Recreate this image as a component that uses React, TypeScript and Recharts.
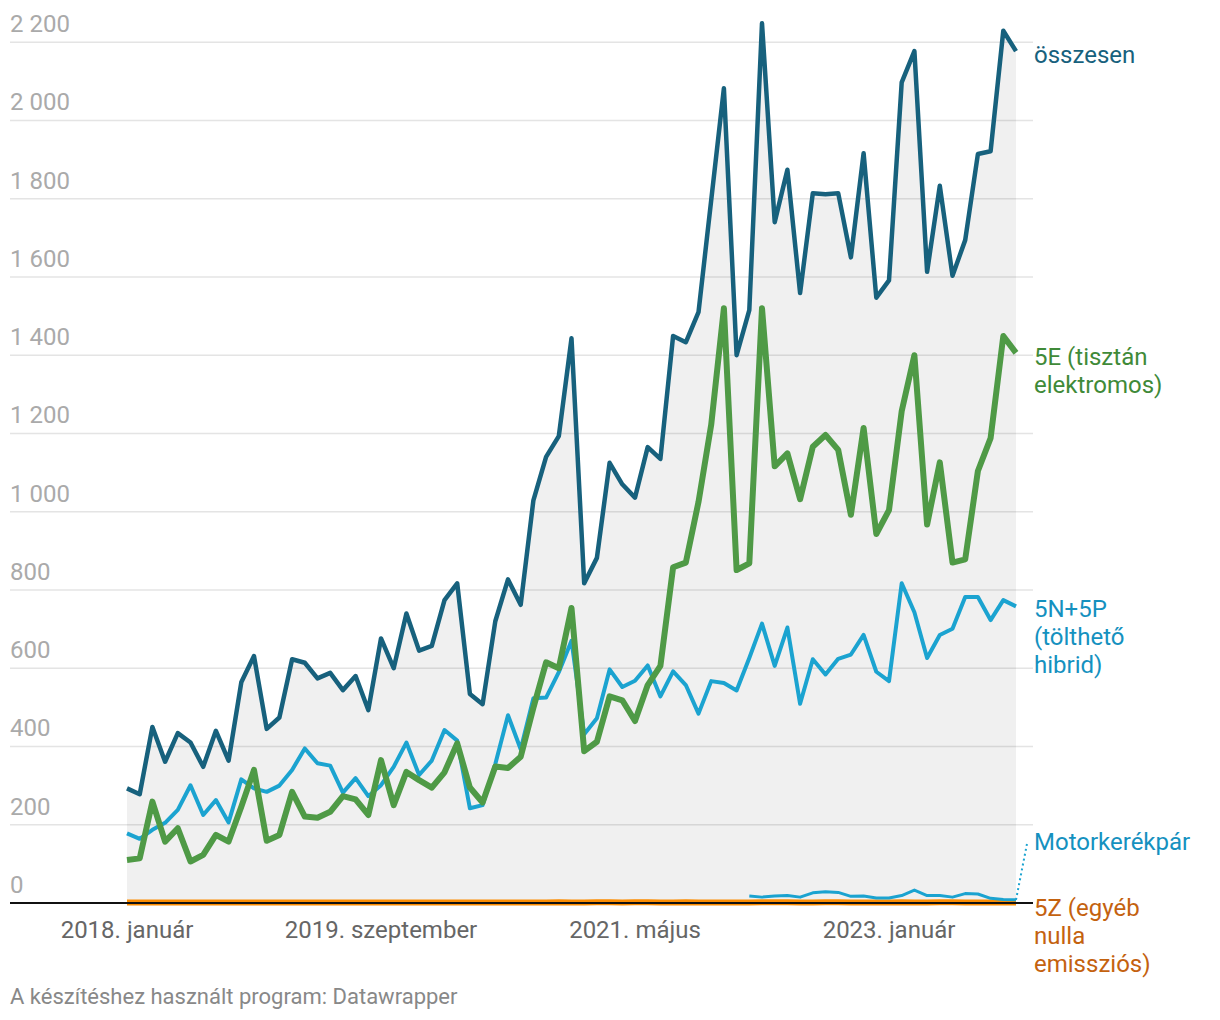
import React from 'react';
import { ComposedChart, Line, Area, XAxis, YAxis, CartesianGrid, ReferenceLine } from 'recharts';

// monthly registrations, 2018. január – 2023. november
const total = [
  293, 278, 450, 361, 434, 410, 348, 440, 364, 564, 631, 445,
  474, 623, 614, 574, 588, 544, 580, 493, 676, 600, 740, 645,
  657, 774, 817, 534, 508, 720, 827, 762, 1029, 1140, 1193, 1443,
  817, 882, 1125, 1070, 1036, 1165, 1135, 1449, 1433, 1510, 1796, 2082,
  1400, 1515, 2248, 1740, 1874, 1559, 1814, 1811, 1814, 1650, 1916, 1547,
  1591, 2097, 2177, 1613, 1833, 1603, 1694, 1914, 1921, 2229, 2177,
];

const electric = [
  110, 114, 259, 157, 191, 106, 123, 174, 157, 246, 340, 159,
  174, 284, 221, 218, 233, 273, 265, 225, 365, 250, 335, 314,
  295, 334, 408, 295, 257, 349, 345, 374, 499, 615, 600, 754,
  388, 412, 528, 518, 465, 557, 606, 858, 870, 1025, 1222, 1520,
  851, 868, 1520, 1116, 1149, 1032, 1166, 1196, 1158, 992, 1214, 943,
  1004, 1257, 1400, 967, 1126, 870, 878, 1104, 1188, 1449, 1406,
];

const hybrid = [
  178, 164, 187, 205, 238, 301, 225, 263, 206, 316, 293, 284,
  300, 340, 395, 357, 351, 282, 319, 273, 301, 348, 410, 327,
  364, 442, 415, 242, 250, 355, 480, 393, 523, 525, 590, 670,
  431, 472, 597, 552, 568, 607, 528, 592, 557, 484, 567, 562,
  543, 626, 714, 606, 704, 509, 623, 584, 624, 635, 685, 591,
  567, 817, 743, 626, 685, 701, 782, 782, 723, 774, 758,
];

// motorcycle data only starts in 2022. február
const motoStart = 49;
const motorcycle = [
  18, 15, 18, 19, 15, 26, 29, 27, 17, 18, 13,
  13, 19, 33, 19, 19, 15, 24, 23, 12, 9, 8,
];

const otherZero = [
  1, 1, 1, 1, 1, 1, 1, 1, 1, 1, 1, 1,
  1, 1, 1, 1, 1, 1, 1, 1, 1, 1, 1, 1,
  1, 1, 1, 1, 1, 1, 1, 1, 1, 1, 2, 1,
  1, 2, 2, 1, 2, 2, 1, 1, 2, 1, 1, 1,
  1, 1, 2, 2, 2, 1, 1, 2, 2, 1, 1, 1,
  1, 2, 1, 1, 2, 2, 1, 1, 1, 1, 1,
];

const xTicks = [0, 20, 40, 60];
const xTickLabels = ['2018. január', '2019. szeptember', '2021. május', '2023. január'];
const yTicks = [0, 200, 400, 600, 800, 1000, 1200, 1400, 1600, 1800, 2000, 2200];

const C_TOTAL = '#17617d';
const C_ELECTRIC = '#4f9a46';
const C_HYBRID = '#1ba3d0';
const C_OTHER = '#fb8c00';
const FONT = 'Roboto, sans-serif';

const data = total.map((v, i) => ({
  i,
  total: v,
  electric: electric[i],
  hybrid: hybrid[i],
  moto: i >= motoStart ? motorcycle[i - motoStart] : null,
  other: otherZero[i],
}));

const fmt = (v: number) => (v >= 1000 ? `${Math.floor(v / 1000)} ${String(v % 1000).padStart(3, '0')}` : String(v));

const YTick = (props: any) => {
  const { y, payload } = props;
  return (
    <text x={10} y={y - 10} fill="#aaaaaa" fontSize={24} fontFamily={FONT} textAnchor="start">
      {fmt(payload.value)}
    </text>
  );
};

const XTick = (props: any) => {
  const { x, y, payload } = props;
  const idx = xTicks.indexOf(payload.value);
  return (
    <text x={x} y={y + 35} fill="#666666" fontSize={24} fontFamily={FONT} textAnchor="middle">
      {xTickLabels[idx]}
    </text>
  );
};

const labelStyle: React.CSSProperties = {
  position: 'absolute',
  left: 1034,
  fontFamily: FONT,
  fontSize: 24,
  lineHeight: '28px',
  whiteSpace: 'nowrap',
};

export default function App() {
  return (
    <div style={{ position: 'absolute', left: 0, top: 0, width: 1220, height: 1020, background: '#fff' }}>
      <ComposedChart
        width={1220}
        height={1020}
        data={data}
        margin={{ top: 3, right: 187, bottom: 77, left: 10 }}
      >
        <CartesianGrid horizontal vertical={false} syncWithTicks stroke="#e4e4e4" strokeWidth={1.5} />
        <XAxis
          dataKey="i"
          type="number"
          domain={[0, 70]}
          ticks={xTicks}
          interval={0}
          padding={{ left: 117, right: 17 }}
          axisLine={false}
          tickLine={false}
          tickSize={0}
          tickMargin={0}
          height={40}
          tick={<XTick />}
        />
        <YAxis
          domain={[0, 2300]}
          ticks={yTicks}
          interval={0}
          width={1}
          mirror
          axisLine={false}
          tickLine={false}
          tick={<YTick />}
        />
        <Area
          dataKey="total"
          type="linear"
          stroke="none"
          fill="#000000"
          fillOpacity={0.06}
          isAnimationActive={false}
        />
        <Line dataKey="other" type="linear" stroke={C_OTHER} strokeWidth={6} dot={false} isAnimationActive={false} />
        <Line dataKey="hybrid" type="linear" stroke={C_HYBRID} strokeWidth={4} strokeLinejoin="round" dot={false} isAnimationActive={false} />
        <Line dataKey="electric" type="linear" stroke={C_ELECTRIC} strokeWidth={6} strokeLinejoin="round" dot={false} isAnimationActive={false} />
        <Line dataKey="total" type="linear" stroke={C_TOTAL} strokeWidth={4.5} strokeLinejoin="round" dot={false} isAnimationActive={false} />
        <Line dataKey="moto" type="linear" stroke={C_HYBRID} strokeWidth={3} strokeLinejoin="round" dot={false} connectNulls={false} isAnimationActive={false} />
        <ReferenceLine y={0} stroke="#111111" strokeWidth={2} />
        <ReferenceLine
          segment={[{ x: 70, y: 8 }, { x: 70.9, y: 157 }]}
          stroke={C_HYBRID}
          strokeWidth={2}
          strokeDasharray="2 3"
          ifOverflow="visible"
        />
      </ComposedChart>

      <div style={{ ...labelStyle, top: 41, color: C_TOTAL }}>összesen</div>
      <div style={{ ...labelStyle, top: 343, color: '#3f8a38' }}>
        5E (tisztán
        <br />
        elektromos)
      </div>
      <div style={{ ...labelStyle, top: 595, color: '#1591bf' }}>
        5N+5P
        <br />
        (tölthető
        <br />
        hibrid)
      </div>
      <div style={{ ...labelStyle, top: 828, color: '#1591bf' }}>Motorkerékpár</div>
      <div style={{ ...labelStyle, top: 894, color: '#c4620f' }}>
        5Z (egyéb
        <br />
        nulla
        <br />
        emissziós)
      </div>
      <div
        style={{
          position: 'absolute',
          left: 10,
          top: 983,
          fontFamily: FONT,
          fontSize: 22,
          lineHeight: '28px',
          color: '#888888',
          whiteSpace: 'nowrap',
        }}
      >
        A készítéshez használt program: Datawrapper
      </div>
    </div>
  );
}
